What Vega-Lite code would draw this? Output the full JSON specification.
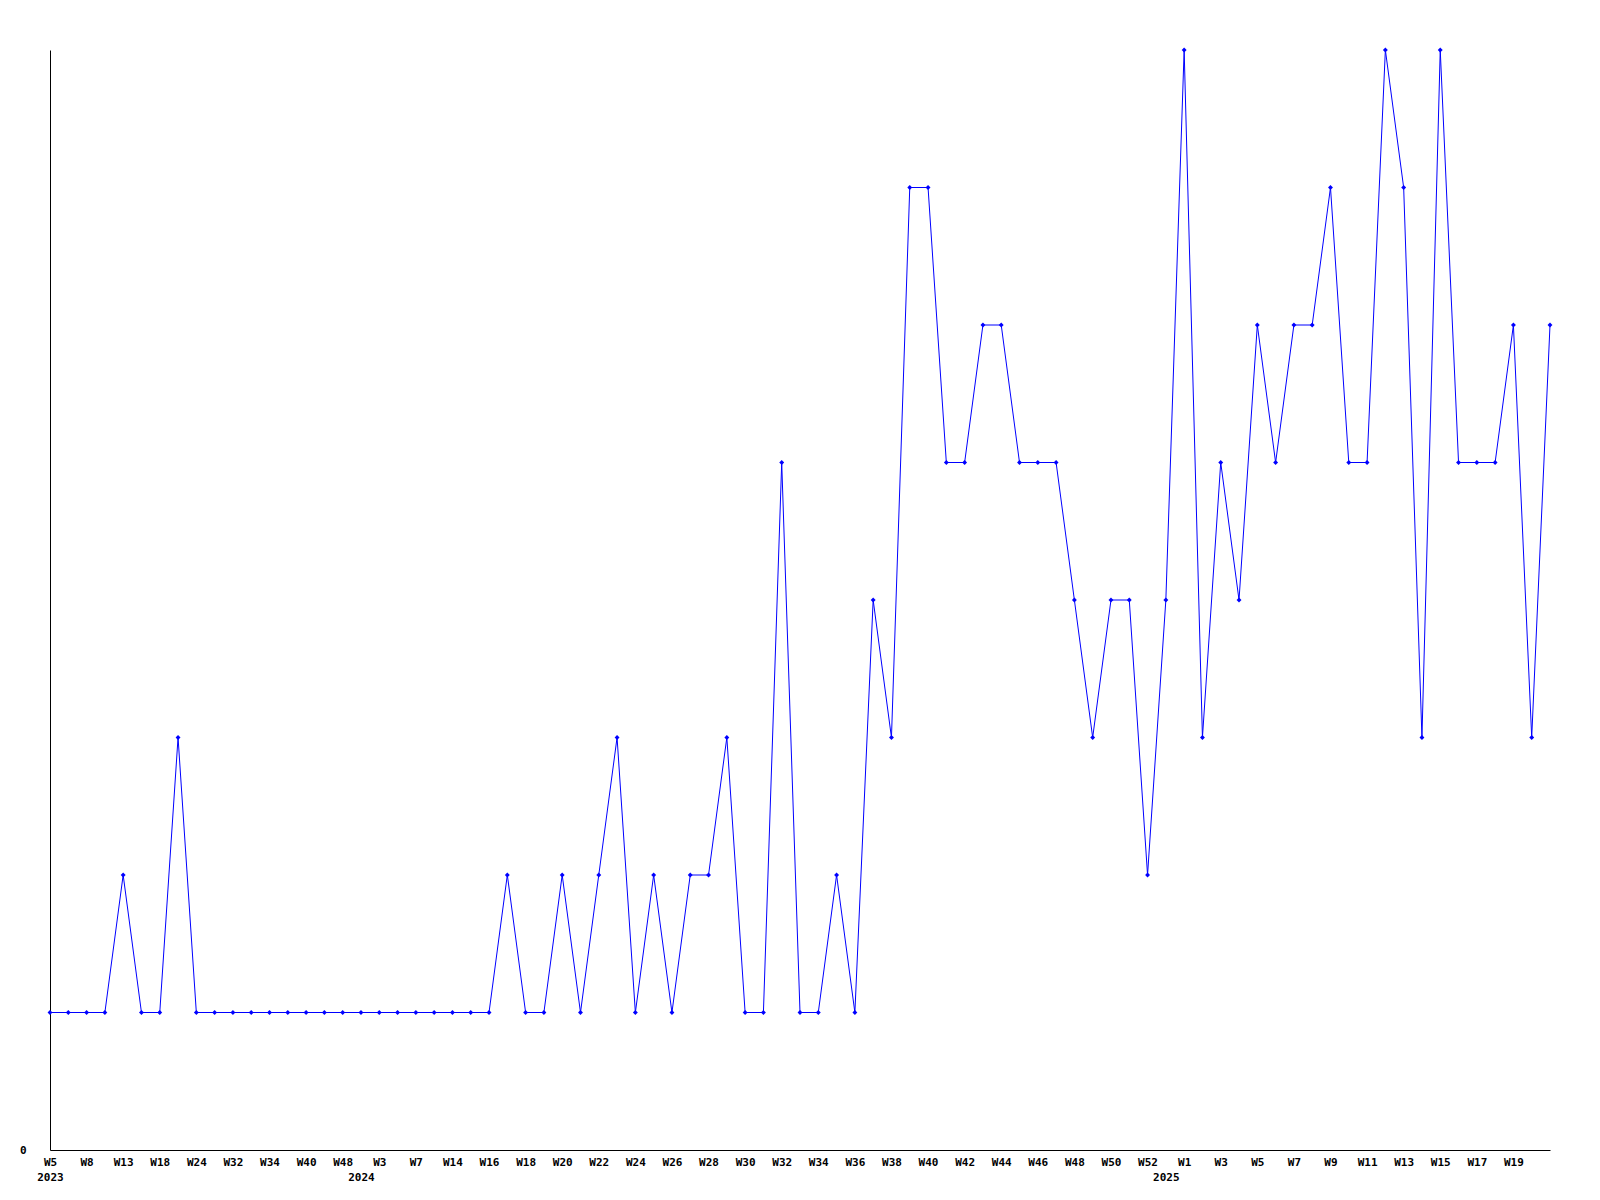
{
  "$schema": "https://vega.github.io/schema/vega-lite/v6.json",
  "width": 1500,
  "height": 1100,
  "autosize": {"type": "none"},
  "padding": {"left": 50, "top": 50, "right": 50, "bottom": 50},
  "background": "white",
  "config": {
    "view": {"stroke": null},
    "axis": {
      "grid": false,
      "labelFont": "DejaVu Sans Mono",
      "labelFontWeight": "bold",
      "labelFontSize": 11,
      "labelColor": "black",
      "domainColor": "black",
      "domainWidth": 1,
      "ticks": false,
      "tickSize": 0,
      "title": null
    }
  },
  "data": {"values": [
    {"week": "2023-W05", "count": 1},
    {"week": "2023-W07", "count": 1},
    {"week": "2023-W08", "count": 1},
    {"week": "2023-W10", "count": 1},
    {"week": "2023-W13", "count": 2},
    {"week": "2023-W16", "count": 1},
    {"week": "2023-W18", "count": 1},
    {"week": "2023-W20", "count": 3},
    {"week": "2023-W24", "count": 1},
    {"week": "2023-W28", "count": 1},
    {"week": "2023-W32", "count": 1},
    {"week": "2023-W33", "count": 1},
    {"week": "2023-W34", "count": 1},
    {"week": "2023-W37", "count": 1},
    {"week": "2023-W40", "count": 1},
    {"week": "2023-W44", "count": 1},
    {"week": "2023-W48", "count": 1},
    {"week": "2024-W01", "count": 1},
    {"week": "2024-W03", "count": 1},
    {"week": "2024-W05", "count": 1},
    {"week": "2024-W07", "count": 1},
    {"week": "2024-W10", "count": 1},
    {"week": "2024-W14", "count": 1},
    {"week": "2024-W15", "count": 1},
    {"week": "2024-W16", "count": 1},
    {"week": "2024-W17", "count": 2},
    {"week": "2024-W18", "count": 1},
    {"week": "2024-W19", "count": 1},
    {"week": "2024-W20", "count": 2},
    {"week": "2024-W21", "count": 1},
    {"week": "2024-W22", "count": 2},
    {"week": "2024-W23", "count": 3},
    {"week": "2024-W24", "count": 1},
    {"week": "2024-W25", "count": 2},
    {"week": "2024-W26", "count": 1},
    {"week": "2024-W27", "count": 2},
    {"week": "2024-W28", "count": 2},
    {"week": "2024-W29", "count": 3},
    {"week": "2024-W30", "count": 1},
    {"week": "2024-W31", "count": 1},
    {"week": "2024-W32", "count": 5},
    {"week": "2024-W33", "count": 1},
    {"week": "2024-W34", "count": 1},
    {"week": "2024-W35", "count": 2},
    {"week": "2024-W36", "count": 1},
    {"week": "2024-W37", "count": 4},
    {"week": "2024-W38", "count": 3},
    {"week": "2024-W39", "count": 7},
    {"week": "2024-W40", "count": 7},
    {"week": "2024-W41", "count": 5},
    {"week": "2024-W42", "count": 5},
    {"week": "2024-W43", "count": 6},
    {"week": "2024-W44", "count": 6},
    {"week": "2024-W45", "count": 5},
    {"week": "2024-W46", "count": 5},
    {"week": "2024-W47", "count": 5},
    {"week": "2024-W48", "count": 4},
    {"week": "2024-W49", "count": 3},
    {"week": "2024-W50", "count": 4},
    {"week": "2024-W51", "count": 4},
    {"week": "2024-W52", "count": 2},
    {"week": "2025-W00", "count": 4},
    {"week": "2025-W01", "count": 8},
    {"week": "2025-W02", "count": 3},
    {"week": "2025-W03", "count": 5},
    {"week": "2025-W04", "count": 4},
    {"week": "2025-W05", "count": 6},
    {"week": "2025-W06", "count": 5},
    {"week": "2025-W07", "count": 6},
    {"week": "2025-W08", "count": 6},
    {"week": "2025-W09", "count": 7},
    {"week": "2025-W10", "count": 5},
    {"week": "2025-W11", "count": 5},
    {"week": "2025-W12", "count": 8},
    {"week": "2025-W13", "count": 7},
    {"week": "2025-W14", "count": 3},
    {"week": "2025-W15", "count": 8},
    {"week": "2025-W16", "count": 5},
    {"week": "2025-W17", "count": 5},
    {"week": "2025-W18", "count": 5},
    {"week": "2025-W19", "count": 6},
    {"week": "2025-W20", "count": 3},
    {"week": "2025-W21", "count": 6}
  ]},
  "encoding": {
    "x": {
      "field": "week",
      "type": "ordinal",
      "sort": null,
      "scale": {"type": "point", "padding": 0},
      "axis": {
        "title": null,
        "values": ["2023-W05","2023-W08","2023-W13","2023-W18","2023-W24","2023-W32","2023-W34","2023-W40","2023-W48","2024-W01","2024-W03","2024-W07","2024-W14","2024-W16","2024-W18","2024-W20","2024-W22","2024-W24","2024-W26","2024-W28","2024-W30","2024-W32","2024-W34","2024-W36","2024-W38","2024-W40","2024-W42","2024-W44","2024-W46","2024-W48","2024-W50","2024-W52","2025-W00","2025-W01","2025-W03","2025-W05","2025-W07","2025-W09","2025-W11","2025-W13","2025-W15","2025-W17","2025-W19"],
        "labelExpr": "datum.value == '2023-W05' ? ['W5', '2023'] : (datum.value == '2024-W01' ? ['', '2024'] : (datum.value == '2025-W00' ? ['', '2025'] : 'W' + parseInt(slice(datum.value, 6))))",
        "labelAngle": 0,
        "labelPadding": 6,
        "labelLineHeight": 15.5,
        "labelBaseline": "top",
        "labelOverlap": false
      }
    },
    "y": {
      "field": "count",
      "type": "quantitative",
      "scale": {"domain": [0, 8], "nice": false, "zero": true},
      "axis": {"title": null, "values": [0], "labelPadding": 24}
    }
  },
  "layer": [
    {"mark": {"type": "line", "color": "#0000ff", "strokeWidth": 1}},
    {"mark": {"type": "point", "shape": "diamond", "filled": true, "color": "#0000ff", "size": 24, "opacity": 1}}
  ]
}
